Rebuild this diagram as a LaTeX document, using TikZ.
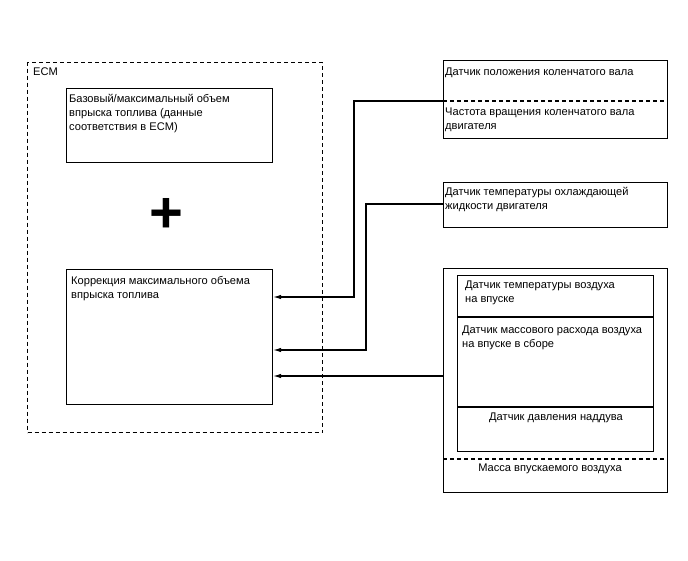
\documentclass[tikz,border=0pt]{standalone}
\usepackage{fontspec}
\setmainfont{Liberation Sans}
\usetikzlibrary{arrows.meta}
\begin{document}
\begin{tikzpicture}[
		x=1pt, y=-1pt,
		every node/.style={font=\fontsize{11.1pt}{13.8pt}\selectfont, inner sep=0pt},
		kasten/.style={draw, line width=1.1pt, anchor=north west},
		beschr/.style={anchor=north west, align=left},
		trenn/.style={line width=1.1pt, dash pattern=on 4pt off 3pt},
		pfeil/.style={line width=1.1pt, -{Latex[length=8pt,width=4.5pt]}}
		]
		\useasboundingbox (0,0) rectangle (688,560);
		
		% ECM
		\node[kasten, trenn, minimum width=295pt, minimum height=370pt] (ecm) at (27,62) {};
		\node[beschr] (ecmtxt) at (33,68) {ECM};
		\node[kasten, minimum width=206pt, minimum height=74pt] (basis) at (66,88) {};
		\node[beschr] (basistxt) at (69,94) {Базовый/максимальный объем\\впрыска топлива (данные\\соответствия в ECM)};
		\node[font=\fontsize{58pt}{58pt}\selectfont\bfseries] (plus) at (166,215) {+};
		\node[kasten, minimum width=206pt, minimum height=135pt] (korr) at (66,269) {};
		\node[beschr] (korrtxt) at (71,276) {Коррекция максимального объема\\впрыска топлива};
		
		% Sensoren rechts
		\node[kasten, minimum width=224pt, minimum height=78pt] (kurbel) at (443,60) {};
		\coordinate (kurbeltr) at (kurbel.west |- 0,101);
		\draw[trenn] (kurbeltr) -- (kurbel.east |- kurbeltr);
		\node[beschr] (kurbeltxt) at (445,68) {Датчик положения коленчатого вала};
		\node[beschr] (drehztxt) at (445,108) {Частота вращения коленчатого вала\\двигателя};
		
		\node[kasten, minimum width=224pt, minimum height=45pt] (kuehl) at (443,182) {};
		\node[beschr] (kuehltxt) at (445,187) {Датчик температуры охлаждающей\\жидкости двигателя};
		
		\node[kasten, minimum width=224pt, minimum height=224pt] (luft) at (443,268) {};
		\node[kasten, minimum width=196pt, minimum height=176pt] (luftin) at (457,275) {};
		\draw[line width=1.1pt] (luftin.west |- 0,317) -- (luftin.east |- 0,317);
		\draw[line width=1.1pt] (luftin.west |- 0,407) -- (luftin.east |- 0,407);
		\draw[trenn] (luft.west |- 0,459) -- (luft.east |- 0,459);
		\node[beschr] (ansaugtxt) at (465,281) {Датчик температуры воздуха\\на впуске};
		\node[beschr] (massetxt) at (462,326) {Датчик массового расхода воздуха\\на впуске в сборе};
		\node[anchor=north] (ladetxt) at (556,413) {Датчик давления наддува};
		\node[anchor=north] (lmtxt) at (550,464) {Масса впускаемого воздуха};
		
		% Verbindungen
		\coordinate (ein1) at (korr.east |- 0,297);
		\coordinate (ein2) at (korr.east |- 0,350);
		\coordinate (ein3) at (korr.east |- 0,376);
		\draw[pfeil] (kurbeltr) -| (354,297) -- (ein1);
		\draw[pfeil] (kuehl.west |- 0,204) -| (366,350) -- (ein2);
		\draw[pfeil] (luft.west |- ein3) -- (ein3);
		
	\end{tikzpicture}
\end{document}
